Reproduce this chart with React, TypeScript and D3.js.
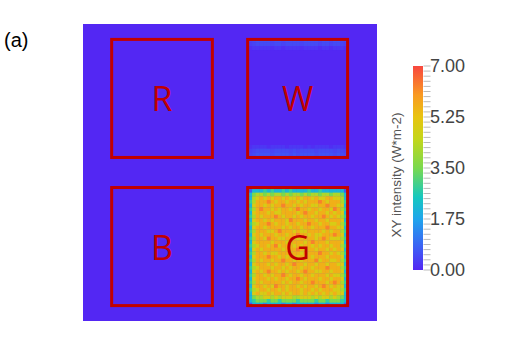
import * as d3 from "d3";

// colour scale (W*m-2)
const colorDomain = [0, 0.7, 1.75, 2.5, 3.5, 4.5, 5.25, 6.0, 7.0];
const colorRange = ["#5327f3", "#3f5af5", "#1fa5ec", "#16c8bf", "#7ad94e", "#c4d61a", "#e8c410", "#f99a22", "#f8473f"];
const ticks = [0, 1.75, 3.5, 5.25, 7];
const tickLabels = ["0.00", "1.75", "3.50", "5.25", "7.00"];

// detector grid, in cells
const gridCols = 80;
const gridRows = 81;

const regions = [
  { name: "R", x0: 7.8, x1: 35.2, y0: 4.2, y1: 36.4 },
  { name: "W", x0: 44.8, x1: 72.0, y0: 4.2, y1: 36.4 },
  { name: "B", x0: 7.8, x1: 35.2, y0: 44.6, y1: 76.8 },
  { name: "G", x0: 44.8, x1: 72.0, y0: 44.6, y1: 76.8 },
];

// G patch: one digit per cell, value = digit * 0.7
const gCol0 = 45;
const gRow0 = 45;
const gStep = 0.7;
const gRows = [
  "133 3434 3343 4333 3433 4333 3331",
  "356 6565 6656 5665 6566 5665 6653",
  "367 8787 8878 7787 8878 7788 7763",
  "468 8898 7887 8878 7888 9878 8864",
  "378 8787 8898 8787 8877 8898 8773",
  "468 9887 8788 7898 8788 7887 9864",
  "378 8878 7788 8878 9887 8878 7873",
  "468 7888 9878 8787 8878 8987 8764",
  "378 8787 8887 9888 7887 8878 8873",
  "467 8898 7887 8878 8988 7887 7864",
  "378 8788 8878 7887 8878 8898 8773",
  "468 8877 8988 8787 7888 8787 8864",
  "378 7888 7887 8898 8787 7888 9873",
  "468 8798 8778 8878 8887 8987 7764",
  "378 8887 8887 7888 7898 8878 8873",
  "467 8878 9788 8787 8878 7887 8864",
  "378 7888 8878 8898 7887 8878 7873",
  "468 8787 7888 7887 8888 9887 8764",
  "378 8898 8787 8878 7878 8878 8873",
  "468 7887 8898 8787 8889 7887 7864",
  "378 8878 7887 8988 7887 8878 8773",
  "467 8887 8878 7887 8878 8898 8864",
  "378 7898 8787 8878 9887 7887 8873",
  "468 8787 8898 7887 8878 8878 7764",
  "378 8878 7887 8898 7888 7887 8873",
  "468 7888 8878 7887 8898 8878 9864",
  "378 8787 9887 8878 7887 8987 8773",
  "467 8878 8787 8887 8878 7888 7764",
  "378 7787 8878 7887 8787 8787 8773",
  "356 6776 7677 7667 7767 6776 7653",
  "345 5545 5455 5545 5554 5545 5543",
  "133 3233 3323 3233 3332 3323 3331",
];

// W patch: faint streaks, value = digit * 0.1
const wCol0 = 45;
const wStep = 0.1;
const wRowIdx = [4, 5, 6, 33, 34, 35];
const wRows = [
  "4566 6656 6566 6656 6665 6656 654",
  "3455 5545 5455 5545 5554 5545 543",
  "1222 2212 2122 2212 2221 2212 221",
  "1222 2122 2212 2221 2122 2212 221",
  "3455 5545 5554 5455 5545 5554 543",
  "4566 6656 6665 6566 6656 6665 654",
];

const W = 511;
const H = 354;

export default function App() {
  const x = d3.scaleLinear().domain([0, gridCols]).range([83, 377]);
  const y = d3.scaleLinear().domain([0, gridRows]).range([24, 321]);
  const color = d3.scaleLinear<string>().domain(colorDomain).range(colorRange).interpolate(d3.interpolateRgb).clamp(true);
  const cw = x(1) - x(0);
  const ch = y(1) - y(0);

  const cells: { key: string; c: number; r: number; v: number }[] = [];
  gRows.forEach((row, ri) => {
    row.replace(/ /g, "").split("").forEach((d, ci) => {
      cells.push({ key: `g${ri}-${ci}`, c: gCol0 + ci, r: gRow0 + ri, v: +d * gStep });
    });
  });
  wRows.forEach((row, ri) => {
    row.replace(/ /g, "").split("").forEach((d, ci) => {
      cells.push({ key: `w${ri}-${ci}`, c: wCol0 + ci, r: wRowIdx[ri], v: +d * wStep });
    });
  });

  // colorbar
  const cb = d3.scaleLinear().domain([0, 7]).range([270, 66]);
  const minor = d3.range(0, 7.0001, 0.175);
  const stops = colorDomain.map((d) => ({ off: d / 7, col: color(d) }));

  return (
    <div style={{ position: "absolute", left: 0, top: 0 }}>
      <svg width={W} height={H} style={{ display: "block" }}>
        <defs>
          <linearGradient id="cbar" x1="0" y1="1" x2="0" y2="0">
            {stops.map((s, i) => (
              <stop key={i} offset={s.off} stopColor={s.col} />
            ))}
          </linearGradient>
        </defs>
        <rect width={W} height={H} fill="#fff" />
        <text x={4} y={47} fontFamily="Liberation Sans, Arial, sans-serif" fontSize={20} fill="#000">
          (a)
        </text>

        <rect x={x(0)} y={y(0)} width={x(gridCols) - x(0)} height={y(gridRows) - y(0)} fill={color(0)} />
        {cells.map((d) => (
          <rect key={d.key} x={x(d.c)} y={y(d.r)} width={cw + 0.4} height={ch + 0.4} fill={color(d.v)} />
        ))}

        {regions.map((r) => (
          <g key={r.name}>
            <rect
              x={x(r.x0)}
              y={y(r.y0)}
              width={x(r.x1) - x(r.x0)}
              height={y(r.y1) - y(r.y0)}
              fill="none"
              stroke="#c20000"
              strokeWidth={3}
            />
            <text
              x={(x(r.x0) + x(r.x1)) / 2}
              y={(y(r.y0) + y(r.y1)) / 2}
              textAnchor="middle"
              dominantBaseline="central"
              fontFamily="Open Sans, sans-serif"
              fontSize={34}
              fill="#c00000"
            >
              {r.name}
            </text>
          </g>
        ))}

        {/* colorbar */}
        <rect x={413} y={cb(7)} width={10} height={cb(0) - cb(7)} fill="url(#cbar)" />
        {minor.map((m, i) => (
          <line key={i} x1={423.5} x2={430.5} y1={cb(m)} y2={cb(m)} stroke="#bbb" strokeWidth={1} />
        ))}
        {ticks.map((t, i) => (
          <text
            key={t}
            x={430}
            y={cb(t)}
            dominantBaseline="central"
            fontFamily="Liberation Sans, Arial, sans-serif"
            fontSize={18}
            fill="#444"
          >
            {tickLabels[i]}
          </text>
        ))}
        <text
          transform={`translate(396,175) rotate(-90)`}
          textAnchor="middle"
          dominantBaseline="central"
          fontFamily="Liberation Sans, Arial, sans-serif"
          fontSize={13.5}
          fill="#555"
        >
          XY intensity (W*m-2)
        </text>
      </svg>
    </div>
  );
}
